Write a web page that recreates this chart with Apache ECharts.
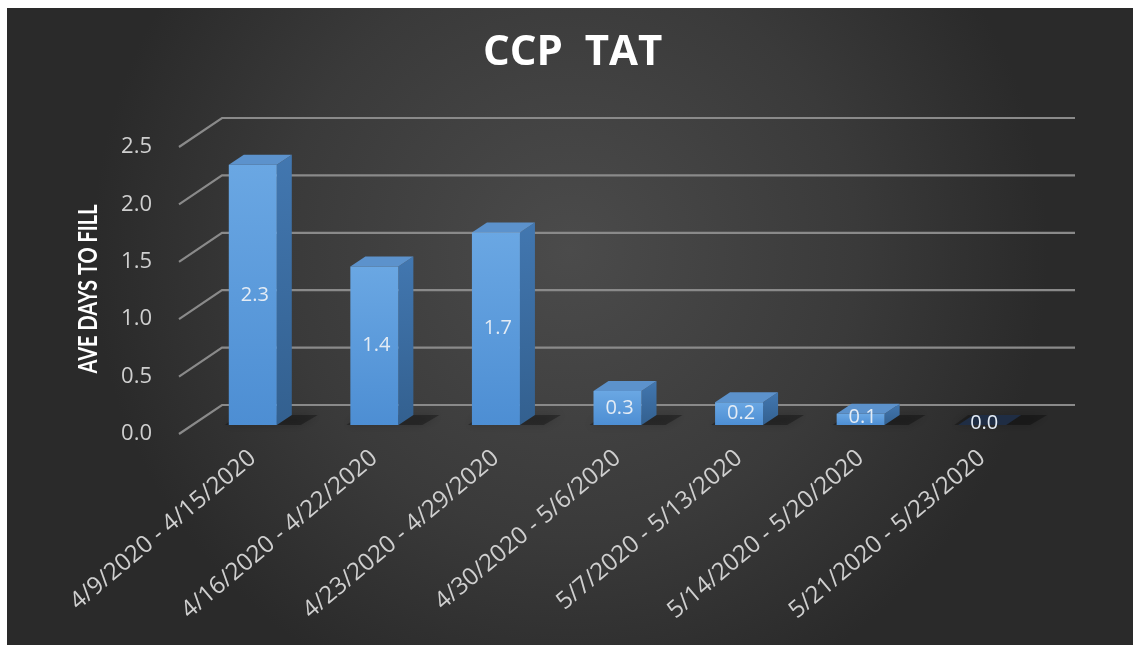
<!DOCTYPE html>
<html>
<head>
<meta charset="utf-8">
<script src="https://cdn.jsdelivr.net/npm/echarts@6/dist/echarts.min.js"></script>
<style>
html,body{margin:0;padding:0;background:#fff;overflow:hidden;}
#chart{width:1133px;height:645px;}
</style>
</head>
<body>
<div id="chart"></div>
<script>
const title = 'CCP  TAT';
const yAxisName = 'AVE DAYS TO FILL';
const categories = ['4/9/2020 - 4/15/2020','4/16/2020 - 4/22/2020','4/23/2020 - 4/29/2020','4/30/2020 - 5/6/2020','5/7/2020 - 5/13/2020','5/14/2020 - 5/20/2020','5/21/2020 - 5/23/2020'];
const values = [2.3, 1.4, 1.7, 0.3, 0.2, 0.1, 0.0];
const yTicks = [0, 0.5, 1.0, 1.5, 2.0, 2.5];

const FONT = '"Open Sans", Lato, sans-serif';
const chart = echarts.init(document.getElementById('chart'), null, {renderer:'canvas'});

const wallDX = 43, wallDY = -29;
const barW = 48, depthX = 15, depthY = -10;

const option = {
  backgroundColor: '#ffffff',
  animation: false,
  graphic: [{
    type: 'rect', z: -10, silent: true,
    shape: {x: 7, y: 8, width: 1126, height: 637},
    style: {fill: new echarts.graphic.RadialGradient(0.5, 0.38, 0.75, [
      {offset: 0, color: '#4b4b4b'},
      {offset: 0.6, color: '#3a3a3a'},
      {offset: 1, color: '#2a2a2a'}
    ])}
  }, {
    type: 'text', z: 10, silent: true,
    x: 89, y: 289, rotation: Math.PI / 2, scaleX: 0.77,
    style: {text: yAxisName, fill: '#ffffff', font: 'bold 26px Lato, sans-serif',
            align: 'center', verticalAlign: 'middle'}
  }],
  title: {
    text: title, left: 478, top: 27,
    textStyle: {color: '#ffffff', fontSize: 42, fontWeight: 'bold', fontFamily: FONT}
  },
  grid: [
    {left: 179, right: 101, top: 147, bottom: 211},
    {left: 192, right: 90, top: 142, bottom: 220}
  ],
  xAxis: [
    {type: 'category', gridIndex: 0, data: categories, show: false},
    {type: 'category', gridIndex: 1, data: categories,
     axisLine: {show: false}, axisTick: {show: false},
     axisLabel: {rotate: 40, margin: 30, color: '#cfcfcf', fontSize: 24, fontFamily: FONT, interval: 0}}
  ],
  yAxis: [
    {type: 'value', gridIndex: 0, min: 0, max: 2.5, interval: 0.5,
     axisLine: {show: false}, axisTick: {show: false}, splitLine: {show: false},
     axisLabel: {margin: 27, color: '#cfcfcf', fontSize: 22, fontFamily: FONT,
                 formatter: v => v.toFixed(1)}},
    {type: 'value', gridIndex: 1, min: 0, max: 2.5, interval: 0.5, show: false, splitLine: {show: false}}
  ],
  series: [
    {
      type: 'custom', xAxisIndex: 0, yAxisIndex: 0, z: 1, silent: true,
      data: yTicks.map(v => [0, v]),
      renderItem: function (params, api) {
        const v = api.value(1);
        const y = api.coord([0, v])[1];
        const cs = params.coordSys;
        const x0 = cs.x;
        const x1 = cs.x + cs.width + wallDX;
        return {
          type: 'polyline',
          shape: {points: [[x0, y], [x0 + wallDX, y + wallDY], [x1, y + wallDY]]},
          style: {stroke: '#8a8a8a', lineWidth: 2.2, fill: null}
        };
      }
    },
    {
      type: 'custom', xAxisIndex: 1, yAxisIndex: 1, z: 2, silent: true,
      data: values.map((v, i) => [i, v]),
      renderItem: function (params, api) {
        const i = api.value(0), v = api.value(1);
        const base = api.coord([i, 0]);
        const top = api.coord([i, v]);
        const cx = base[0], by = base[1], ty = top[1];
        const l = cx - barW / 2, r = cx + barW / 2;
        const children = [
          {type: 'polygon', shape: {points: [[l - 4, by], [l + 10, by - 10], [r + depthX + 26, by - 10], [r + 24, by]]},
           style: {fill: 'rgba(0,0,0,0.3)', shadowBlur: 8, shadowColor: 'rgba(0,0,0,0.6)'}},
          {type: 'polygon', shape: {points: [[r, ty], [r + depthX, ty + depthY], [r + depthX, by + depthY], [r, by]]},
           style: {fill: new echarts.graphic.LinearGradient(0, 0, 0, 1, [
             {offset: 0, color: '#4277b0'}, {offset: 1, color: '#33608f'}])}},
          {type: 'polygon', shape: {points: [[l, ty], [l + depthX, ty + depthY], [r + depthX, ty + depthY], [r, ty]]},
           style: {fill: v === 0 ? '#1f2d44' : '#5c92cc'}},
          {type: 'rect', shape: {x: l, y: ty, width: barW, height: by - ty},
           style: {fill: new echarts.graphic.LinearGradient(0, 0, 0, 1, [
             {offset: 0, color: '#6aa7e3'}, {offset: 1, color: '#4d8ed3'}])}},
          {type: 'text', style: {text: v.toFixed(1), x: cx + 2, y: (ty + by) / 2 - (v < 0.15 ? 2 : 0),
            align: 'center', verticalAlign: 'middle', fill: '#e4ecf5', fontSize: 20, fontFamily: FONT}}
        ];
        return {type: 'group', children: children};
      }
    }
  ]
};
chart.setOption(option);
</script>
</body>
</html>
